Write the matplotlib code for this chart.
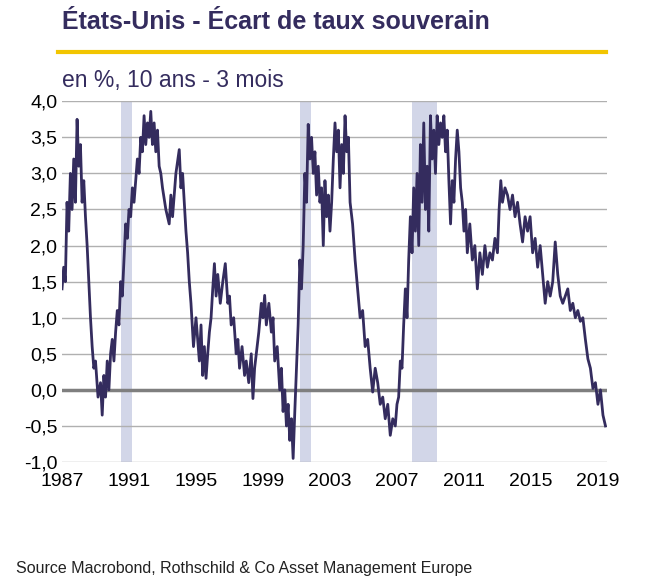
import numpy as np
import matplotlib.pyplot as plt

plt.rcParams['font.family'] = ['Liberation Sans', 'DejaVu Sans']

# 10y - 3m US spread
years = [1987.0, 1987.1, 1987.2, 1987.3, 1987.4, 1987.5, 1987.6, 1987.7, 1987.8, 1987.9,
         1988.0, 1988.1, 1988.2, 1988.3, 1988.4, 1988.5, 1988.6, 1988.7, 1988.8, 1988.9,
         1989.0, 1989.15, 1989.3, 1989.4, 1989.5, 1989.6, 1989.7, 1989.8, 1989.9, 1990.0,
         1990.1, 1990.2, 1990.3, 1990.4, 1990.5, 1990.6, 1990.7, 1990.8, 1990.9, 1991.0,
         1991.1, 1991.2, 1991.3, 1991.4, 1991.5, 1991.6, 1991.7, 1991.8, 1991.9, 1992.0,
         1992.1, 1992.2, 1992.3, 1992.4, 1992.5, 1992.6, 1992.7, 1992.8, 1992.9, 1993.0,
         1993.2, 1993.4, 1993.5, 1993.6, 1993.8, 1994.0, 1994.1, 1994.2, 1994.3, 1994.4,
         1994.5, 1994.6, 1994.7, 1994.85, 1995.0, 1995.2, 1995.3, 1995.4, 1995.5, 1995.6,
         1995.7, 1995.8, 1995.9, 1996.0, 1996.1, 1996.2, 1996.3, 1996.45, 1996.6, 1996.75,
         1996.9, 1997.0, 1997.1, 1997.25, 1997.4, 1997.5, 1997.6, 1997.75, 1997.9, 1998.0,
         1998.15, 1998.3, 1998.4, 1998.5, 1998.6, 1998.75, 1998.9, 1999.0, 1999.1, 1999.2,
         1999.35, 1999.5, 1999.6, 1999.7, 1999.85, 2000.0, 2000.1, 2000.2, 2000.3, 2000.4,
         2000.5, 2000.6, 2000.7, 2000.8, 2000.9, 2001.0, 2001.1, 2001.2, 2001.3, 2001.4,
         2001.5, 2001.6, 2001.7, 2001.8, 2001.9, 2002.0, 2002.1, 2002.2, 2002.3, 2002.4,
         2002.5, 2002.6, 2002.7, 2002.8, 2002.9, 2003.0, 2003.1, 2003.2, 2003.3, 2003.4,
         2003.5, 2003.6, 2003.7, 2003.8, 2003.9, 2004.0, 2004.1, 2004.2, 2004.35, 2004.5,
         2004.65, 2004.8, 2004.95, 2005.1, 2005.25, 2005.4, 2005.55, 2005.7, 2005.85, 2006.0,
         2006.15, 2006.3, 2006.45, 2006.6, 2006.75, 2006.9, 2007.0, 2007.1, 2007.2, 2007.3,
         2007.4, 2007.5, 2007.6, 2007.7, 2007.8, 2007.9, 2008.0, 2008.1, 2008.2, 2008.3,
         2008.4, 2008.5, 2008.6, 2008.7, 2008.8, 2008.9, 2009.0, 2009.1, 2009.2, 2009.3,
         2009.4, 2009.5, 2009.6, 2009.7, 2009.8, 2009.9, 2010.0, 2010.1, 2010.2, 2010.3,
         2010.4, 2010.5, 2010.6, 2010.7, 2010.8, 2010.9, 2011.0, 2011.1, 2011.2, 2011.35,
         2011.5, 2011.65, 2011.8, 2011.95, 2012.1, 2012.25, 2012.4, 2012.55, 2012.7, 2012.85,
         2013.0, 2013.1, 2013.2, 2013.3, 2013.45, 2013.6, 2013.75, 2013.9, 2014.05, 2014.2,
         2014.35, 2014.5, 2014.65, 2014.8, 2014.95, 2015.1, 2015.25, 2015.4, 2015.55, 2015.7,
         2015.85, 2016.0, 2016.15, 2016.3, 2016.45, 2016.6, 2016.75, 2016.9, 2017.05, 2017.2,
         2017.35, 2017.5, 2017.65, 2017.8, 2017.95, 2018.1, 2018.25, 2018.4, 2018.55, 2018.7,
         2018.85, 2019.0, 2019.15, 2019.3, 2019.45]
spread = [1.4, 1.7, 1.5, 2.6, 2.2, 3.0, 2.5, 3.2, 2.6, 3.75,
          3.1, 3.4, 2.6, 2.9, 2.4, 2.0, 1.5, 1.0, 0.6, 0.3,
          0.4, -0.1, 0.1, -0.35, 0.2, -0.1, 0.4, 0.0, 0.5, 0.7,
          0.4, 0.8, 1.1, 0.9, 1.5, 1.3, 1.8, 2.3, 2.1, 2.5,
          2.4, 2.8, 2.6, 2.9, 3.2, 3.0, 3.5, 3.3, 3.8, 3.4,
          3.7, 3.5, 3.86, 3.4, 3.7, 3.3, 3.6, 3.1, 3.0, 2.8,
          2.5, 2.3, 2.7, 2.4, 3.0, 3.33, 2.8, 3.0, 2.6, 2.2,
          1.9, 1.5, 1.2, 0.6, 1.0, 0.4, 0.9, 0.2, 0.6, 0.16,
          0.5, 0.8, 1.0, 1.4, 1.75, 1.3, 1.6, 1.2, 1.5, 1.75,
          1.2, 1.3, 0.9, 1.0, 0.5, 0.7, 0.3, 0.6, 0.2, 0.4,
          0.1, 0.5, -0.12, 0.3, 0.5, 0.8, 1.2, 1.0, 1.31, 0.9,
          1.2, 0.8, 1.0, 0.4, 0.6, 0.0, 0.3, -0.3, 0.0, -0.5,
          -0.2, -0.7, -0.4, -0.95, -0.3, 0.3, 0.9, 1.8, 1.4, 2.0,
          3.0, 2.6, 3.68, 3.2, 3.5, 3.0, 3.3, 2.7, 3.1, 2.6,
          2.8, 2.0, 2.9, 2.4, 2.7, 2.2, 2.6, 3.2, 3.7, 3.3,
          3.6, 2.8, 3.4, 3.0, 3.8, 3.3, 3.5, 2.6, 2.3, 1.8,
          1.4, 1.0, 1.1, 0.6, 0.7, 0.3, -0.03, 0.3, 0.1, -0.2,
          -0.1, -0.4, -0.2, -0.63, -0.4, -0.5, -0.2, -0.1, 0.4, 0.3,
          0.9, 1.4, 1.0, 1.8, 2.4, 1.9, 2.8, 2.2, 3.0, 2.0,
          3.4, 2.6, 3.7, 2.5, 3.1, 2.2, 3.8, 3.2, 3.6, 3.0,
          3.8, 3.4, 3.7, 3.5, 3.8, 3.3, 3.6, 2.9, 2.3, 2.9,
          2.6, 3.2, 3.6, 3.3, 2.8, 2.6, 2.2, 2.5, 1.9, 2.3,
          1.8, 2.0, 1.4, 1.9, 1.6, 2.0, 1.7, 1.9, 1.8, 2.1,
          1.9, 2.5, 2.9, 2.6, 2.8, 2.7, 2.5, 2.7, 2.4, 2.6,
          2.3, 2.05, 2.4, 2.2, 2.4, 1.9, 2.1, 1.7, 2.0, 1.6,
          1.2, 1.5, 1.3, 1.5, 2.05, 1.6, 1.3, 1.2, 1.3, 1.4,
          1.1, 1.2, 1.0, 1.1, 0.95, 1.0, 0.7, 0.43, 0.3, 0.02,
          0.1, -0.2, 0.0, -0.35, -0.5]

recessions = [(1990.5, 1991.2), (2001.2, 2001.85), (2007.9, 2009.4)]
yticks = [4.0, 3.5, 3.0, 2.5, 2.0, 1.5, 1.0, 0.5, 0.0, -0.5, -1.0]
xticks = [1987, 1991, 1995, 1999, 2003, 2007, 2011, 2015, 2019]

navy = '#342c5e'
fig = plt.figure(figsize=(6.48, 5.8), dpi=100)
ax = fig.add_axes([0.0957, 0.2034, 0.841, 0.622])

for a, b in recessions:
    ax.axvspan(a, b, color='#d2d6e8', lw=0, zorder=0)
for t in yticks:
    if t == 0:
        ax.axhline(t, color='#7f7f7f', lw=2.5, zorder=1)
    else:
        ax.axhline(t, color='#b0b0b0', lw=1, zorder=1)
ax.plot(years, spread, color=navy, lw=2, zorder=2)

ax.set_xlim(1987, 2019.54)
ax.set_ylim(-1.0, 4.0)
ax.set_yticks(yticks)
ax.set_yticklabels([f'{t:.1f}'.replace('.', ',') for t in yticks])
ax.set_xticks(xticks)
for s in ax.spines.values():
    s.set_visible(False)
ax.tick_params(length=0, labelsize=14, colors='black')
ax.tick_params(axis='x', pad=8)

fig.text(0.096, 0.962, 'États-Unis - Écart de taux souverain', fontsize=18,
         fontweight='bold', color=navy, va='center')
fig.add_artist(plt.Line2D([0.09, 0.935], [0.91, 0.91], color='#f2c500', lw=3))
fig.text(0.096, 0.862, 'en %, 10 ans - 3 mois', fontsize=16.5, color=navy, va='center')
fig.text(0.025, 0.02, 'Source Macrobond, Rothschild & Co Asset Management Europe',
         fontsize=11.5, color='#222222', va='center')

fig.savefig('out.png')
